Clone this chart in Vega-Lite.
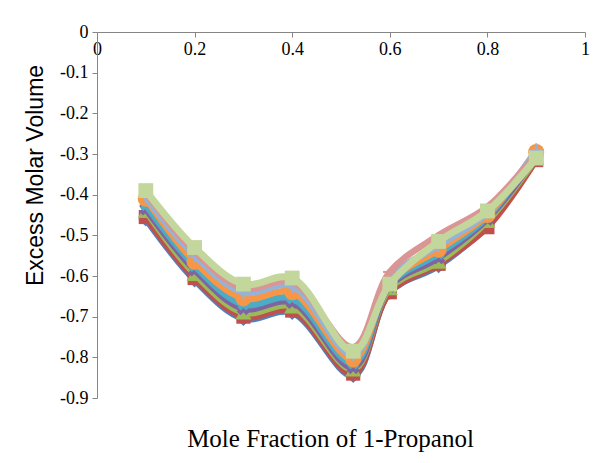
{
  "$schema": "https://vega.github.io/schema/vega-lite/v6.json",
  "width": 488,
  "height": 366,
  "autosize": "none",
  "padding": {"left": 97, "top": 32, "right": 22, "bottom": 65},
  "background": "white",
  "config": {"view": {"stroke": null}, "axis": {"grid": false}},
  "data": {"values": [
    {"s":"S1","x":0.1,"y":-0.460},{"s":"S1","x":0.2,"y":-0.610},{"s":"S1","x":0.3,"y":-0.705},{"s":"S1","x":0.4,"y":-0.690},{"s":"S1","x":0.525,"y":-0.845},{"s":"S1","x":0.6,"y":-0.640},{"s":"S1","x":0.7,"y":-0.575},{"s":"S1","x":0.8,"y":-0.475},{"s":"S1","x":0.9,"y":-0.305},
    {"s":"S2","x":0.1,"y":-0.455},{"s":"S2","x":0.2,"y":-0.605},{"s":"S2","x":0.3,"y":-0.700},{"s":"S2","x":0.4,"y":-0.685},{"s":"S2","x":0.525,"y":-0.840},{"s":"S2","x":0.6,"y":-0.640},{"s":"S2","x":0.7,"y":-0.570},{"s":"S2","x":0.8,"y":-0.480},{"s":"S2","x":0.9,"y":-0.315},
    {"s":"S3","x":0.1,"y":-0.440},{"s":"S3","x":0.2,"y":-0.595},{"s":"S3","x":0.3,"y":-0.690},{"s":"S3","x":0.4,"y":-0.675},{"s":"S3","x":0.525,"y":-0.830},{"s":"S3","x":0.6,"y":-0.630},{"s":"S3","x":0.7,"y":-0.565},{"s":"S3","x":0.8,"y":-0.465},{"s":"S3","x":0.9,"y":-0.310},
    {"s":"S4","x":0.1,"y":-0.435},{"s":"S4","x":0.2,"y":-0.585},{"s":"S4","x":0.3,"y":-0.680},{"s":"S4","x":0.4,"y":-0.665},{"s":"S4","x":0.525,"y":-0.825},{"s":"S4","x":0.6,"y":-0.625},{"s":"S4","x":0.7,"y":-0.555},{"s":"S4","x":0.8,"y":-0.460},{"s":"S4","x":0.9,"y":-0.305},
    {"s":"S5","x":0.1,"y":-0.425},{"s":"S5","x":0.2,"y":-0.575},{"s":"S5","x":0.3,"y":-0.670},{"s":"S5","x":0.4,"y":-0.655},{"s":"S5","x":0.525,"y":-0.815},{"s":"S5","x":0.6,"y":-0.620},{"s":"S5","x":0.7,"y":-0.545},{"s":"S5","x":0.8,"y":-0.455},{"s":"S5","x":0.9,"y":-0.295},
    {"s":"S6","x":0.1,"y":-0.410},{"s":"S6","x":0.2,"y":-0.565},{"s":"S6","x":0.3,"y":-0.655},{"s":"S6","x":0.4,"y":-0.640},{"s":"S6","x":0.525,"y":-0.805},{"s":"S6","x":0.6,"y":-0.615},{"s":"S6","x":0.7,"y":-0.535},{"s":"S6","x":0.8,"y":-0.450},{"s":"S6","x":0.9,"y":-0.295},
    {"s":"S7","x":0.1,"y":-0.405},{"s":"S7","x":0.2,"y":-0.550},{"s":"S7","x":0.3,"y":-0.640},{"s":"S7","x":0.4,"y":-0.625},{"s":"S7","x":0.525,"y":-0.795},{"s":"S7","x":0.6,"y":-0.605},{"s":"S7","x":0.7,"y":-0.525},{"s":"S7","x":0.8,"y":-0.445},{"s":"S7","x":0.9,"y":-0.290},
    {"s":"S8","x":0.1,"y":-0.395},{"s":"S8","x":0.2,"y":-0.540},{"s":"S8","x":0.3,"y":-0.630},{"s":"S8","x":0.4,"y":-0.615},{"s":"S8","x":0.525,"y":-0.775},{"s":"S8","x":0.6,"y":-0.590},{"s":"S8","x":0.7,"y":-0.500},{"s":"S8","x":0.8,"y":-0.430},{"s":"S8","x":0.9,"y":-0.300},
    {"s":"S9","x":0.1,"y":-0.390},{"s":"S9","x":0.2,"y":-0.530},{"s":"S9","x":0.3,"y":-0.620},{"s":"S9","x":0.4,"y":-0.605},{"s":"S9","x":0.525,"y":-0.785},{"s":"S9","x":0.6,"y":-0.620},{"s":"S9","x":0.7,"y":-0.515},{"s":"S9","x":0.8,"y":-0.440},{"s":"S9","x":0.9,"y":-0.310}
  ]},
  "encoding": {
    "x": {"field": "x", "type": "quantitative",
      "scale": {"domain": [0, 1], "nice": false, "zero": false},
      "axis": {"orient": "bottom", "offset": -366, "values": [0, 0.2, 0.4, 0.6, 0.8, 1],
        "labelExpr": "format(datum.value, '.1~f')",
        "labelFont": "Liberation Serif", "labelFontSize": 18, "labelColor": "black", "labelPadding": 3,
        "domainColor": "#868686", "tickColor": "#868686", "tickSize": 5, "labelFlush": false,
        "title": "Mole Fraction of 1-Propanol", "titleFont": "Liberation Serif", "titleFontSize": 25,
        "titleFontWeight": "normal", "titleColor": "black", "titleX": 233, "titleY": 414, "titleBaseline": "alphabetic", "titleAnchor": null}},
    "y": {"field": "y", "type": "quantitative",
      "scale": {"domain": [-0.9, 0], "nice": false, "zero": false},
      "axis": {"values": [0, -0.1, -0.2, -0.3, -0.4, -0.5, -0.6, -0.7, -0.8, -0.9],
        "labelExpr": "datum.value == 0 ? '0' : '-' + format(abs(datum.value), '.1f')",
        "labelFont": "Liberation Serif", "labelFontSize": 18, "labelColor": "black", "labelPadding": 4,
        "domainColor": "#868686", "tickColor": "#868686", "tickSize": 5, "labelFlush": false,
        "title": "Excess  Molar Volume", "titleFont": "Liberation Sans", "titleFontSize": 23,
        "titleFontWeight": "normal", "titleColor": "black", "titleX": -62, "titleY": 143, "titleBaseline": "middle", "titleAnchor": null}},
    "color": {"field": "s", "type": "nominal", "legend": null,
      "scale": {"domain": ["S1","S2","S3","S4","S5","S6","S7","S8","S9"],
        "range": ["#4F81BD","#C0504D","#9BBB59","#8064A2","#4BACC6","#F79646","#95B3D7","#D99694","#C3D69B"]}}
  },
  "layer": [
    {"transform": [{"filter": "datum.s == 'S1'"}], "layer": [
      {"mark": {"type": "line", "interpolate": "catmull-rom", "strokeWidth": 6.5}},
      {"mark": {"type": "point", "shape": "diamond", "filled": true, "size": 220, "opacity": 1}}]},
    {"transform": [{"filter": "datum.s == 'S2'"}], "layer": [
      {"mark": {"type": "line", "interpolate": "catmull-rom", "strokeWidth": 6.5}},
      {"mark": {"type": "point", "shape": "square", "filled": true, "size": 200, "opacity": 1}}]},
    {"transform": [{"filter": "datum.s == 'S3'"}], "layer": [
      {"mark": {"type": "line", "interpolate": "catmull-rom", "strokeWidth": 6.5}},
      {"mark": {"type": "point", "shape": "triangle-up", "filled": true, "size": 260, "opacity": 1}}]},
    {"transform": [{"filter": "datum.s == 'S4'"}], "layer": [
      {"mark": {"type": "line", "interpolate": "catmull-rom", "strokeWidth": 6.5}},
      {"mark": {"type": "point", "shape": "cross", "angle": 45, "filled": true, "size": 180, "opacity": 1}}]},
    {"transform": [{"filter": "datum.s == 'S5'"}], "layer": [
      {"mark": {"type": "line", "interpolate": "catmull-rom", "strokeWidth": 6.5}},
      {"mark": {"type": "point", "shape": "cross", "angle": 45, "filled": true, "size": 150, "opacity": 1}}]},
    {"transform": [{"filter": "datum.s == 'S6'"}], "layer": [
      {"mark": {"type": "line", "interpolate": "catmull-rom", "strokeWidth": 6.5}},
      {"mark": {"type": "point", "shape": "circle", "filled": true, "size": 260, "opacity": 1}}]},
    {"transform": [{"filter": "datum.s == 'S7'"}], "layer": [
      {"mark": {"type": "line", "interpolate": "catmull-rom", "strokeWidth": 6.5}},
      {"mark": {"type": "point", "shape": "M-1,0L1,0M0,-1L0,1", "filled": false, "strokeWidth": 2, "size": 180, "opacity": 1}}]},
    {"transform": [{"filter": "datum.s == 'S8'"}], "layer": [
      {"mark": {"type": "line", "interpolate": "catmull-rom", "strokeWidth": 6.5}},
      {"mark": {"type": "point", "shape": "M-1,0L1,0", "filled": false, "strokeWidth": 2, "size": 180, "opacity": 1}}]},
    {"transform": [{"filter": "datum.s == 'S9'"}], "layer": [
      {"mark": {"type": "line", "interpolate": "catmull-rom", "strokeWidth": 7}},
      {"mark": {"type": "point", "shape": "square", "filled": true, "size": 220, "opacity": 1}}]}
  ]
}
